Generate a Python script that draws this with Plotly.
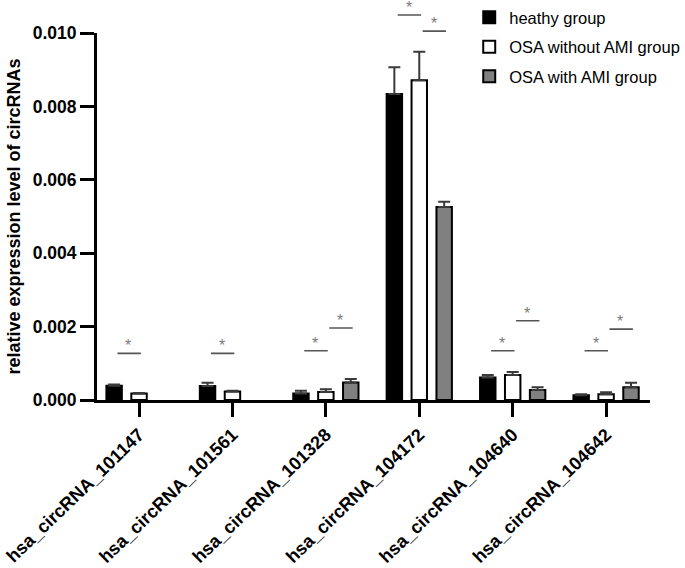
import plotly.graph_objects as go

categories = ["hsa_circRNA_101147", "hsa_circRNA_101561", "hsa_circRNA_101328",
              "hsa_circRNA_104172", "hsa_circRNA_104640", "hsa_circRNA_104642"]
series_names = ["heathy group", "OSA without AMI group", "OSA with AMI group"]

healthy = [0.00039, 0.00038, 0.00018, 0.00834, 0.00061, 0.00013]
healthy_err = [0.00003, 0.00009, 0.00007, 0.00073, 0.00007, 0.00003]
osa_no_ami = [0.00018, 0.00023, 0.00022, 0.00871, 0.00068, 0.00016]
osa_no_ami_err = [0.00001, 0.00002, 0.00007, 0.00078, 0.00008, 0.00005]
osa_ami = [None, None, 0.00048, 0.00526, 0.00027, 0.00035]
osa_ami_err = [None, None, 0.00009, 0.00014, 0.00008, 0.00012]

# significance brackets: (category index, left series, right series, height)
sig_cat = [0, 1, 2, 2, 3, 3, 4, 4, 5, 5]
sig_left = [0, 0, 0, 1, 0, 1, 0, 1, 0, 1]
sig_right = [1, 1, 1, 2, 1, 2, 1, 2, 1, 2]
sig_height = [0.00127, 0.00127, 0.00134, 0.00196, 0.01049, 0.01005,
              0.00134, 0.00216, 0.00134, 0.00193]

y_ticks = [0.0, 0.002, 0.004, 0.006, 0.008, 0.010]
y_max = 0.010

FONT = "Liberation Sans, Arial, sans-serif"
bargap = 0.2
bargroupgap = 0.38
n_series = 3
slot = (1 - bargap) / n_series

fills = ["#000000", "#ffffff", "#808080"]
values = [healthy, osa_no_ami, osa_ami]
errors = [healthy_err, osa_no_ami_err, osa_ami_err]

x_idx = list(range(len(categories)))
fig = go.Figure()
for k in range(n_series):
    fig.add_trace(go.Bar(
        x=x_idx, y=values[k], name=series_names[k], legendgroup=series_names[k],
        marker=dict(color=fills[k], line=dict(color="#000000", width=2)),
        error_y=dict(type="data", symmetric=False, array=errors[k],
                     arrayminus=[0] * len(categories),
                     color="#3a3a3a", thickness=2, width=6),
    ))

def bar_center(ci, si):
    return ci + (si - (n_series - 1) / 2) * slot

annotations = []
for ci, sl, sr, h in zip(sig_cat, sig_left, sig_right, sig_height):
    x0 = bar_center(ci, sl) + 0.02
    x1 = bar_center(ci, sr) + 0.02
    yp = h / y_max  # linear axis starting at 0 -> paper fraction
    annotations.append(dict(x=x1, y=yp, ax=x0, ay=0, xref="x", yref="paper",
                            axref="x", ayref="pixel", text="", showarrow=True,
                            arrowhead=0, arrowwidth=1.6, arrowcolor="#555555",
                            standoff=0, startstandoff=0))
    annotations.append(dict(x=(x0 + x1) / 2, y=yp, xref="x", yref="paper", text="*",
                            showarrow=False, yanchor="bottom", yshift=-3,
                            font=dict(family=FONT, size=16, color="#7a7a7a")))

fig.update_layout(
    width=685, height=568,
    margin=dict(l=97, r=35, t=33, b=168, autoexpand=False),
    paper_bgcolor="white", plot_bgcolor="white",
    barmode="group", bargap=bargap, bargroupgap=bargroupgap,
    font=dict(family=FONT, color="#000000"),
    showlegend=True,
    legend=dict(x=0.685, y=1.01, xref="container", yref="container",
                xanchor="left", yanchor="top",
                font=dict(family=FONT, size=16.5, color="#000000"),
                bgcolor="rgba(0,0,0,0)", tracegroupgap=5, traceorder="grouped"),
    annotations=annotations,
    xaxis=dict(range=[-0.45, 5.47], tickvals=x_idx, ticktext=categories,
               tickangle=-44, showline=True, linecolor="#000000", linewidth=3,
               ticks="outside", ticklen=14, tickwidth=3, tickcolor="#000000",
               showgrid=False, zeroline=False, automargin=False,
               ticklabeloverflow="allow",
               tickfont=dict(family=FONT, size=18.2, color="#000000", weight="bold")),
    yaxis=dict(range=[0, y_max], tickvals=y_ticks, tickformat=".3f",
               showline=True, linecolor="#000000", linewidth=3,
               ticks="outside", ticklen=14, tickwidth=3, tickcolor="#000000",
               showgrid=False, zeroline=False, automargin=False,
               tickfont=dict(family=FONT, size=17.5, color="#000000", weight="bold"),
               title=dict(text="relative expression level of circRNAs", standoff=8,
                          font=dict(family=FONT, size=18, color="#000000", weight="bold"))),
)

fig.write_html("out.html", config={"displayModeBar": False},
               post_script="document.body.style.margin='0';")
